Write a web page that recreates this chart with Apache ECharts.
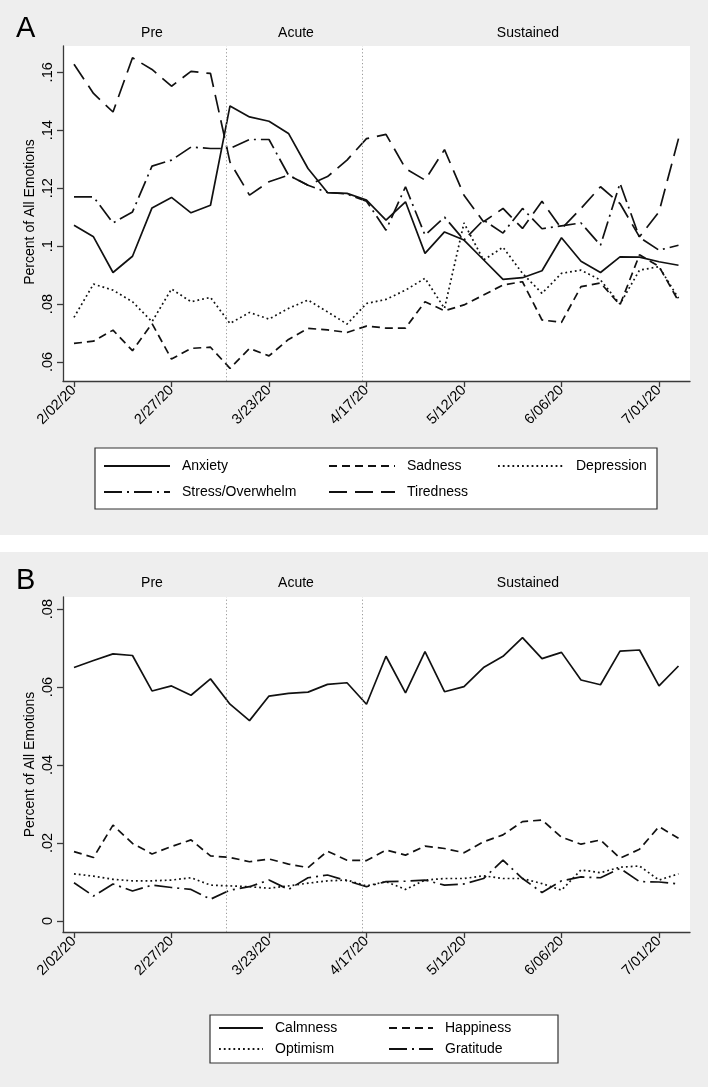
<!DOCTYPE html>
<html><head><meta charset="utf-8">
<script src="https://cdn.jsdelivr.net/npm/echarts@6/dist/echarts.min.js"></script>
<style>html,body{margin:0;padding:0;background:#fff}#c{width:708px;height:1087px}</style>
</head><body><div id="c"></div>
<script>
// ---- data ----
const dates = ['2/02/20','2/07/20','2/12/20','2/17/20','2/22/20','2/27/20','3/03/20','3/08/20','3/13/20','3/18/20',
  '3/23/20','3/28/20','4/02/20','4/07/20','4/12/20','4/17/20','4/22/20','4/27/20','5/02/20','5/07/20',
  '5/12/20','5/17/20','5/22/20','5/27/20','6/01/20','6/06/20','6/11/20','6/16/20','6/21/20','6/26/20','7/01/20','7/06/20'];
const xTickLabels = ['2/02/20','2/27/20','3/23/20','4/17/20','5/12/20','6/06/20','7/01/20'];
const phaseBreaks = ['3/12/20','4/16/20'];
const phaseNames = ['Pre','Acute','Sustained'];
const yTicksA = [0.06,0.08,0.10,0.12,0.14,0.16];
const yTicksB = [0,0.02,0.04,0.06,0.08];

const anxiety = [.1072,.1032,.0909,.0965,.1132,.1168,.1115,.1141,.1484,.1446,.1431,.1389,.1268,.1185,.1182,.1159,
  .1090,.1153,.0975,.1049,.1021,.0953,.0885,.0891,.0915,.1029,.0948,.0909,.0963,.0962,.0946,.0934];
const sadness = [.0664,.0672,.0710,.0639,.0733,.0610,.0647,.0651,.0578,.0647,.0621,.0678,.0716,.0711,.0702,.0724,
  .0717,.0717,.0808,.0777,.0797,.0831,.0866,.0877,.0745,.0737,.0860,.0873,.0797,.0970,.0930,.0810];
const depression = [.0754,.0869,.0848,.0808,.0739,.0852,.0808,.0823,.0733,.0771,.0748,.0785,.0814,.0773,.0731,.0802,
  .0816,.0848,.0889,.0785,.1080,.0952,.0996,.0906,.0837,.0906,.0917,.0883,.0800,.0917,.0929,.0820];
const stress = [.1170,.1170,.1080,.1118,.1276,.1297,.1342,.1337,.1337,.1368,.1368,.1245,.1210,.1185,.1180,.1155,
  .1055,.1205,.1038,.1100,.1021,.1090,.1045,.1130,.1060,.1070,.1080,.1003,.1217,.1030,.0986,.1003];
const tiredness = [.1628,.1527,.1463,.1650,.1610,.1552,.1603,.1596,.1290,.1176,.1222,.1245,.1210,.1240,.1297,.1371,
  .1386,.1268,.1228,.1333,.1176,.1084,.1130,.1061,.1155,.1060,.1130,.1205,.1147,.1032,.1118,.1371];

const calmness = [.0650,.0668,.0685,.0681,.0590,.0603,.0579,.0621,.0556,.0514,.0577,.0584,.0587,.0607,.0611,.0556,
  .0679,.0585,.0691,.0588,.0601,.0650,.0679,.0727,.0673,.0689,.0618,.0606,.0692,.0695,.0603,.0654];
const happiness = [.0178,.0163,.0246,.0199,.0172,.0191,.0208,.0167,.0163,.0152,.0159,.0146,.0137,.0179,.0156,.0155,
  .0182,.0169,.0192,.0186,.0175,.0203,.0221,.0255,.0259,.0215,.0197,.0208,.0161,.0184,.0242,.0212];
const optimism = [.0121,.0115,.0107,.0103,.0103,.0105,.0111,.0092,.0090,.0088,.0084,.0090,.0097,.0103,.0105,.0090,
  .0101,.0081,.0105,.0109,.0109,.0116,.0109,.0109,.0096,.0079,.0131,.0124,.0138,.0141,.0105,.0121];
const gratitude = [.0098,.0064,.0095,.0077,.0092,.0086,.0081,.0056,.0079,.0088,.0105,.0081,.0111,.0118,.0103,.0088,
  .0101,.0102,.0105,.0092,.0095,.0109,.0156,.0109,.0073,.0103,.0113,.0111,.0135,.0101,.0100,.0095];

// ---- helpers ----
function dayOf(s){const p=s.split('/').map(Number);return Math.round((Date.UTC(2000+p[2],p[0]-1,p[1])-Date.UTC(2020,1,2))/864e5);}
const xTickDays = xTickLabels.map(dayOf);
const breakDays = phaseBreaks.map(dayOf);
const FONT = 'Liberation Sans, Arial, Helvetica, sans-serif';
const INK = '#111';
const AX = '#3a3a3a';
const STY = {
  solid:'solid', dash:[8,5], dot:[1.8,3], dashdot:[18,5,2,5], longdash:[18,8]
};
function fmtY(v){ if (Math.abs(v)<1e-9) return '0'; return String(+v.toFixed(2)).replace(/^0\./,'.'); }
const xLabelMap = {}; xTickDays.forEach((d,i)=>xLabelMap[d]=xTickLabels[i]);

function mkX(gi){
  return {type:'value', gridIndex:gi, min:-2.82, max:157.95,
    axisLine:{show:true,onZero:false,lineStyle:{color:AX,width:1.3}},
    axisTick:{show:true,customValues:xTickDays,length:6,lineStyle:{color:AX,width:1.3}},
    axisLabel:{customValues:xTickDays,rotate:45,margin:7,formatter:v=>xLabelMap[Math.round(v)]||'',
      color:'#000',fontFamily:FONT,fontSize:14.5},
    splitLine:{show:false}};
}
function mkY(gi,min,max,ticks){
  return {type:'value', gridIndex:gi, min:min, max:max,
    axisLine:{show:true,onZero:false,lineStyle:{color:AX,width:1.3}},
    axisTick:{show:true,customValues:ticks,length:6,lineStyle:{color:AX,width:1.3}},
    axisLabel:{customValues:ticks,rotate:90,margin:8,formatter:fmtY,color:'#000',fontFamily:FONT,fontSize:14.5},
    splitLine:{show:false}};
}
function mkS(name,arr,type,gi,withMark){
  const s = {type:'line', name:name, xAxisIndex:gi, yAxisIndex:gi,
    data: dates.map((d,i)=>[dayOf(d),arr[i]]), symbol:'none', showSymbol:false, animation:false,
    lineStyle:{color:INK,width:1.7,type:type}, itemStyle:{color:INK}, z:3};
  if (withMark) s.markLine = {silent:true, symbol:'none', animation:false, label:{show:false},
    lineStyle:{type:[1.2,2.4],color:'#9a9a9a',width:1}, data: breakDays.map(d=>({xAxis:d}))};
  return s;
}
function mkLeg(name,left,cy,w){
  return {data:[name], left:left, top:cy-8, padding:0, itemWidth:w, itemHeight:16, itemGap:0,
    itemStyle:{opacity:0, borderWidth:0},
    textStyle:{fontFamily:FONT,fontSize:14,color:'#000',padding:[0,0,0,7]}, selectedMode:false};
}

const chart = echarts.init(document.getElementById('c'), null, {renderer:'canvas'});
const phaseX = [152, 296, 528];
const graphic = [
  {type:'rect', shape:{x:0,y:535,width:708,height:17}, style:{fill:'#ffffff'}, z:0},
  {type:'text', x:16, y:29, style:{text:'A', font:'29px '+FONT, fill:'#000', textVerticalAlign:'middle'}},
  {type:'text', x:16, y:581, style:{text:'B', font:'29px '+FONT, fill:'#000', textVerticalAlign:'middle'}},
  {type:'text', x:30, y:212, rotation:Math.PI/2, style:{text:'Percent of All Emotions', font:'14px '+FONT, fill:'#000', textAlign:'center', textVerticalAlign:'middle'}},
  {type:'text', x:30, y:764.5, rotation:Math.PI/2, style:{text:'Percent of All Emotions', font:'14px '+FONT, fill:'#000', textAlign:'center', textVerticalAlign:'middle'}},
  {type:'rect', shape:{x:95,y:448,width:562,height:61}, style:{fill:'#fff',stroke:'#333',lineWidth:1.2}, z:1},
  {type:'rect', shape:{x:210,y:1015,width:348,height:48}, style:{fill:'#fff',stroke:'#333',lineWidth:1.2}, z:1}
];
phaseNames.forEach((p,i)=>{
  graphic.push({type:'text', x:phaseX[i], y:33, style:{text:p, font:'14px '+FONT, fill:'#000', textAlign:'center', textVerticalAlign:'middle'}});
  graphic.push({type:'text', x:phaseX[i], y:583, style:{text:p, font:'14px '+FONT, fill:'#000', textAlign:'center', textVerticalAlign:'middle'}});
});

chart.setOption({
  backgroundColor:'#eeeeee',
  animation:false,
  grid:[
    {left:63, top:46, width:627, height:335, show:true, backgroundColor:'#fff', borderWidth:0},
    {left:63, top:597, width:627, height:335, show:true, backgroundColor:'#fff', borderWidth:0}
  ],
  xAxis:[mkX(0), mkX(1)],
  yAxis:[mkY(0,0.05344,0.16908,yTicksA), mkY(1,-0.00282,0.0831,yTicksB)],
  legend:[
    mkLeg('Anxiety',103,467,66), mkLeg('Sadness',328,467,66), mkLeg('Depression',497,467,66),
    mkLeg('Stress/Overwhelm',103,493,66), mkLeg('Tiredness',328,493,66),
    mkLeg('Calmness',218,1029,44), mkLeg('Happiness',388,1029,44),
    mkLeg('Optimism',218,1050,44), mkLeg('Gratitude',388,1050,44)
  ],
  graphic: graphic,
  series:[
    mkS('Anxiety',anxiety,STY.solid,0,true),
    mkS('Sadness',sadness,STY.dash,0,false),
    mkS('Depression',depression,STY.dot,0,false),
    mkS('Stress/Overwhelm',stress,STY.dashdot,0,false),
    mkS('Tiredness',tiredness,STY.longdash,0,false),
    mkS('Calmness',calmness,STY.solid,1,true),
    mkS('Happiness',happiness,STY.dash,1,false),
    mkS('Optimism',optimism,STY.dot,1,false),
    mkS('Gratitude',gratitude,STY.dashdot,1,false)
  ]
});
</script></body></html>
